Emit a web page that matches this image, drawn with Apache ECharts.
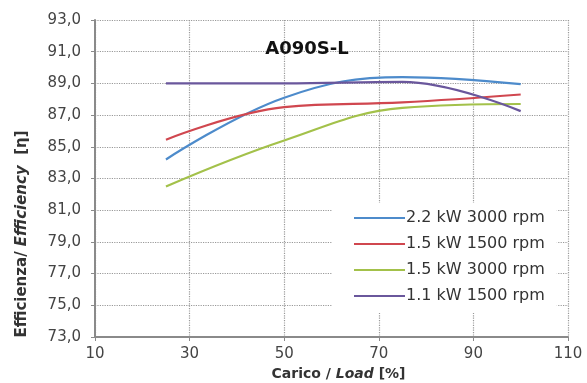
<!DOCTYPE html>
<html>
<head>
<meta charset="utf-8">
<script src="https://cdn.jsdelivr.net/npm/echarts@6/dist/echarts.min.js"></script>
<style>html,body{margin:0;padding:0;background:#fff;}#c{width:587px;height:383px;}</style>
</head>
<body>
<div id="c"></div>
<script>
const loads = [25, 50, 75, 100];
const s22_3000 = [84.2, 88.1, 89.4, 88.95];
const s15_1500 = [85.45, 87.5, 87.8, 88.3];
const s15_3000 = [82.5, 85.4, 87.45, 87.7];
const s11_1500 = [89.0, 89.0, 89.1, 87.25];
const seriesNames = ['2.2 kW 3000 rpm', '1.5 kW 1500 rpm', '1.5 kW 3000 rpm', '1.1 kW 1500 rpm'];
const seriesColors = ['#4d8bcb', '#d0474f', '#a3c14a', '#6a579c'];
const seriesValues = [s22_3000, s15_1500, s15_3000, s11_1500];

const chart = echarts.init(document.getElementById('c'));
const font = 'DejaVu Sans';
chart.setOption({
  animation: false,
  backgroundColor: '#fff',
  title: {
    text: 'A090S-L', left: 302, top: 35, textAlign: 'center',
    textStyle: { fontFamily: font, fontSize: 18, fontWeight: 'bold', color: '#111' }
  },
  grid: { left: 95, right: 19, top: 20, bottom: 46, containLabel: false, outerBoundsMode: 'none' },
  legend: {
    orient: 'vertical', left: 332, top: 203,
    backgroundColor: '#fff', padding: [6, 12, 8, 22],
    icon: 'rect', itemWidth: 51, itemHeight: 2, itemGap: 8,
    textStyle: { fontFamily: font, fontSize: 16, color: '#333', padding: [0, 0, 0, -4], lineHeight: 18 },
    data: seriesNames
  },
  graphic: [{
    type: 'text', x: 22, y: 234, rotation: Math.PI / 2,
    style: {
      text: '{n|Efficienza/ }{i|Efficiency}{n|  [η]}',
      align: 'center', verticalAlign: 'middle',
      rich: {
        n: { fontFamily: font, fontSize: 15, fontWeight: 'bold', fill: '#333' },
        i: { fontFamily: font, fontSize: 15, fontWeight: 'bold', fontStyle: 'italic', fill: '#333' }
      }
    }
  }],
  xAxis: {
    type: 'value', min: 10, max: 110, interval: 20,
    name: '{n|Carico / }{i|Load}{n| [%]}', nameLocation: 'middle', nameGap: 30,
    nameTextStyle: { padding: [0, 0, 0, 14], rich: {
      n: { fontFamily: font, fontSize: 14, fontWeight: 'bold', color: '#333' },
      i: { fontFamily: font, fontSize: 14, fontWeight: 'bold', fontStyle: 'italic', color: '#333' }
    }},
    axisLine: { lineStyle: { color: '#8a8a8a', width: 2 } },
    axisTick: { show: true, length: 4, lineStyle: { color: '#8a8a8a' } },
    axisLabel: { fontFamily: font, fontSize: 15, color: '#444', margin: 10 },
    splitLine: { show: true, lineStyle: { type: 'dotted', color: '#999', width: 1.2 } }
  },
  yAxis: {
    type: 'value', min: 73, max: 93, interval: 2,
    axisLine: { show: true, lineStyle: { color: '#8a8a8a', width: 2 } },
    axisTick: { show: true, length: 4, lineStyle: { color: '#8a8a8a' } },
    axisLabel: { fontFamily: font, fontSize: 15, color: '#444', margin: 14,
      formatter: v => v.toFixed(1).replace('.', ',') },
    splitLine: { show: true, lineStyle: { type: 'dotted', color: '#999', width: 1.2 } }
  },
  series: seriesValues.map((vals, i) => ({
    name: seriesNames[i], type: 'line', smooth: 0.4, symbol: 'none',
    color: seriesColors[i],
    lineStyle: { width: 2.2, color: seriesColors[i] },
    data: loads.map((x, j) => [x, vals[j]])
  }))
});
</script>
</body>
</html>
